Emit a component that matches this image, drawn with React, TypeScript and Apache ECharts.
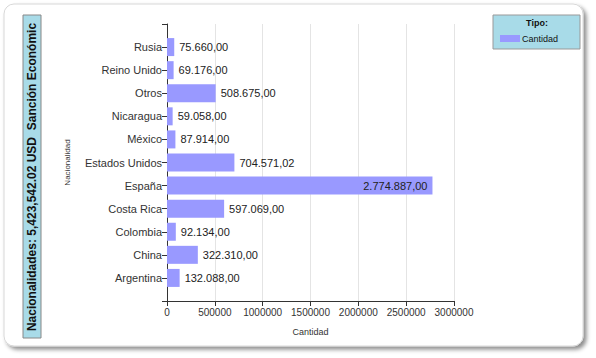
import React, { useEffect, useRef } from "react";
import * as echarts from "echarts";

const categories = ["Argentina", "China", "Colombia", "Costa Rica", "España", "Estados Unidos", "México", "Nicaragua", "Otros", "Reino Unido", "Rusia"];
const values = [132088, 322310, 92134, 597069, 2774887, 704571.02, 87914, 59058, 508675, 69176, 75660];
const xTicks = [0, 500000, 1000000, 1500000, 2000000, 2500000, 3000000];
const titleText = "Nacionalidades: 5,423,542.02 USD  Sanción Económic";
const seriesName = "Cantidad";

const FONT = "Liberation Sans, Arial, sans-serif";

function fmt(v: number): string {
  const fixed = v.toFixed(2);
  const [i, d] = fixed.split(".");
  const withDots = i.replace(/\B(?=(\d{3})+(?!\d))/g, ".");
  return withDots + "," + d;
}

export default function App() {
  const ref = useRef<HTMLDivElement>(null);
  useEffect(() => {
    if (!ref.current) return;
    const chart = echarts.init(ref.current, undefined, { renderer: "svg" });
    const cats = ["", ...categories, ""];
    const maxV = Math.max(...values);
    const data = ["-" as any, ...values.map((v) => ({
      value: v,
      label: v === maxV
        ? { show: true, position: "insideRight", formatter: fmt(v), color: "#222", fontSize: 11, fontFamily: FONT }
        : { show: true, position: "right", formatter: fmt(v), color: "#222", fontSize: 11, fontFamily: FONT, distance: 5 },
    })), "-" as any];
    chart.setOption({
      animation: false,
      backgroundColor: "#fff",
      grid: { left: 167, right: 142, top: 24, bottom: 57, containLabel: false },
      xAxis: {
        type: "value",
        min: xTicks[0],
        max: xTicks[xTicks.length - 1],
        interval: 500000,
        name: "Cantidad",
        nameLocation: "middle",
        nameGap: 26,
        nameTextStyle: { fontSize: 9, color: "#333", fontFamily: FONT },
        axisLine: { show: true, lineStyle: { color: "#333", width: 1 } },
        axisTick: { show: true, length: 5, lineStyle: { color: "#333" } },
        axisLabel: {
          color: "#333", fontSize: 10, fontFamily: FONT, margin: 6,
          showMaxLabel: true, showMinLabel: true, hideOverlap: false,
          formatter: (v: number) => String(v),
        },
        splitLine: { show: true, lineStyle: { color: "#e4e4e4" } },
      },
      yAxis: {
        type: "category",
        data: cats,
        boundaryGap: false,
        name: "Nacionalidad",
        nameLocation: "middle",
        nameGap: 96,
        nameRotate: 90,
        nameTextStyle: { fontSize: 8, color: "#333", fontFamily: FONT },
        axisLine: { show: true, lineStyle: { color: "#333", width: 1 } },
        axisTick: { show: true, length: 5, interval: 0, lineStyle: { color: "#333" } },
        axisLabel: { color: "#333", fontSize: 11, fontFamily: FONT, margin: 5, interval: 0 },
        splitLine: { show: false },
      },
      series: [
        {
          name: seriesName,
          type: "bar",
          data,
          barWidth: 18,
          itemStyle: { color: "#9999ff" },
        },
      ],
      graphic: [
        {
          type: "rect",
          z: -10,
          shape: { x: 4, y: 4, width: 579, height: 342, r: 10 },
          style: { fill: "#fff", stroke: "#d8d8d8", lineWidth: 1, shadowBlur: 4, shadowOffsetX: 3, shadowOffsetY: 3, shadowColor: "rgba(0,0,0,0.45)" },
        },
        {
          type: "rect",
          shape: { x: 23, y: 15, width: 18, height: 323 },
          style: { fill: "#a8dbe8", stroke: "#888", lineWidth: 1 },
        },
        {
          type: "text",
          x: 32,
          y: 177,
          rotation: Math.PI / 2,
          style: { text: titleText, fill: "#111", font: `bold 12px ${FONT}`, align: "center", verticalAlign: "middle" },
        },
        {
          type: "rect",
          shape: { x: 493, y: 15, width: 87, height: 34 },
          style: { fill: "#a8dbe8", stroke: "#999", lineWidth: 1 },
        },
        {
          type: "text",
          x: 537,
          y: 23,
          style: { text: "Tipo:", fill: "#111", font: `bold 9px ${FONT}`, align: "center", verticalAlign: "middle" },
        },
        {
          type: "rect",
          shape: { x: 500, y: 35, width: 20, height: 7 },
          style: { fill: "#9999ff" },
        },
        {
          type: "text",
          x: 522,
          y: 39,
          style: { text: seriesName, fill: "#111", font: `9px ${FONT}`, align: "left", verticalAlign: "middle" },
        },
      ],
    });
    return () => chart.dispose();
  }, []);
  return <div ref={ref} style={{ width: 596, height: 358, position: "absolute", left: 0, top: 0 }} />;
}
